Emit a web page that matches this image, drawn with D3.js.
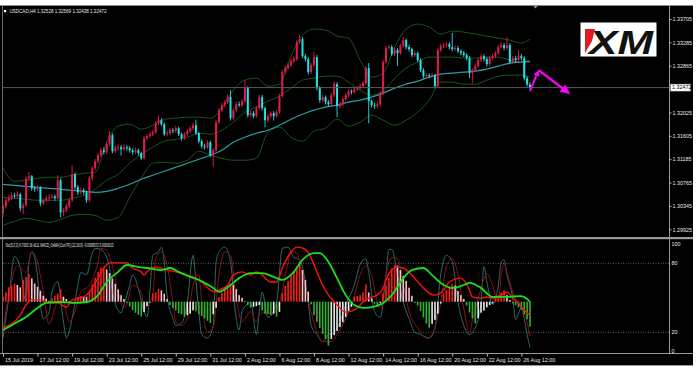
<!DOCTYPE html>
<html>
<head>
<meta charset="utf-8">
<script src="https://cdn.jsdelivr.net/npm/d3@7"></script>
<style>
body { margin: 0; background: #fff; }
svg { display: block; }
text { font-family: "Liberation Sans", Arial, sans-serif; }
</style>
</head>
<body>
<svg width="699" height="373"></svg>
<script>
// USDCAD H4 - open of every bar is the close of the previous one
const firstOpen = 1.30212;
const closes = [
 1.30338,1.30446,1.30482,1.30536,1.30518,1.30554,1.30302,1.30356,1.30842,1.30878,
 1.30662,1.30644,1.30680,1.30392,1.30446,1.30482,1.30500,1.30518,1.30482,1.30806,
 1.30230,1.30266,1.30338,1.30446,1.30914,1.30680,1.30590,1.30626,1.30590,1.30446,
 1.30842,1.31022,1.31148,1.31256,1.31346,1.31310,1.31454,1.31616,1.31328,1.31382,
 1.31400,1.31364,1.31400,1.31382,1.31346,1.31310,1.31346,1.31292,1.31202,1.31562,
 1.31598,1.31634,1.31670,1.31832,1.31886,1.31814,1.31634,1.31652,1.31706,1.31688,
 1.31742,1.31634,1.31562,1.31634,1.31688,1.31742,1.31796,1.31652,1.31508,1.31418,
 1.31400,1.31490,1.31256,1.31346,1.31850,1.32066,1.32156,1.32210,1.32300,1.31922,
 1.32066,1.32174,1.32156,1.32228,1.32462,1.31976,1.32012,1.31958,1.32102,1.32300,
 1.32102,1.31886,1.31958,1.32012,1.31958,1.32030,1.32318,1.32750,1.32822,1.32876,
 1.32948,1.32984,1.33290,1.33344,1.33038,1.32984,1.32750,1.32876,1.33020,1.32462,
 1.32246,1.32300,1.32210,1.32174,1.32336,1.32534,1.32138,1.32174,1.32264,1.32336,
 1.32408,1.32390,1.32444,1.32462,1.32498,1.32552,1.32822,1.32228,1.32156,1.32138,
 1.32174,1.32372,1.32930,1.33182,1.33200,1.33074,1.33146,1.33092,1.33218,1.33326,
 1.33200,1.33164,1.33056,1.33092,1.32966,1.32786,1.32678,1.32696,1.32678,1.32696,
 1.32498,1.33146,1.33218,1.33236,1.33254,1.33200,1.33164,1.33182,1.33128,1.33092,
 1.33056,1.33002,1.32732,1.32786,1.32858,1.32966,1.33038,1.32984,1.32894,1.33002,
 1.33038,1.33092,1.33200,1.33236,1.33182,1.33236,1.32930,1.33002,1.32966,1.33038,
 1.33002,1.32642,1.32528,1.32472];
const highs = [
 1.30380,1.30490,1.30540,1.30590,1.30580,1.30610,1.30580,1.30400,1.30880,1.30950,
 1.30900,1.30700,1.30720,1.30700,1.30480,1.30530,1.30550,1.30560,1.30550,1.30900,
 1.30840,1.30310,1.30380,1.30480,1.31076,1.30950,1.30720,1.30670,1.30660,1.30620,
 1.30880,1.31060,1.31190,1.31300,1.31390,1.31400,1.31500,1.31690,1.31650,1.31430,
 1.31450,1.31440,1.31460,1.31440,1.31420,1.31380,1.31390,1.31380,1.31320,1.31600,
 1.31640,1.31680,1.31710,1.31870,1.31976,1.31920,1.31840,1.31700,1.31750,1.31740,
 1.31790,1.31770,1.31660,1.31670,1.31730,1.31780,1.31840,1.31886,1.31680,1.31540,
 1.31460,1.31530,1.31520,1.31380,1.31890,1.32110,1.32200,1.32250,1.32350,1.32426,
 1.32100,1.32220,1.32220,1.32270,1.32606,1.32500,1.32060,1.32050,1.32140,1.32340,
 1.32340,1.32130,1.32000,1.32050,1.32050,1.32070,1.32360,1.32790,1.32870,1.32920,
 1.32990,1.33030,1.33330,1.33416,1.33380,1.33080,1.33020,1.32920,1.33110,1.33060,
 1.32500,1.32340,1.32330,1.32250,1.32380,1.32580,1.32570,1.32220,1.32300,1.32380,
 1.32450,1.32440,1.32490,1.32500,1.32540,1.32600,1.32860,1.32912,1.32260,1.32200,
 1.32220,1.32410,1.32970,1.33220,1.33236,1.33240,1.33190,1.33180,1.33260,1.33380,
 1.33350,1.33240,1.33190,1.33130,1.33120,1.33000,1.32820,1.32740,1.32730,1.32740,
 1.32720,1.33180,1.33260,1.33280,1.33300,1.33290,1.33452,1.33230,1.33220,1.33160,
 1.33130,1.33090,1.33040,1.32820,1.32900,1.33010,1.33080,1.33070,1.33020,1.33040,
 1.33080,1.33130,1.33240,1.33290,1.33270,1.33380,1.33270,1.33040,1.33040,1.33146,
 1.33080,1.33040,1.32680,1.32569];
const lows = [
 1.30150,1.30300,1.30410,1.30450,1.30480,1.30490,1.30250,1.30200,1.30330,1.30800,
 1.30620,1.30600,1.30610,1.30340,1.30360,1.30420,1.30440,1.30470,1.30440,1.30460,
 1.30140,1.30160,1.30230,1.30310,1.30420,1.30640,1.30540,1.30550,1.30550,1.30400,
 1.30420,1.30800,1.30990,1.31110,1.31220,1.31270,1.31280,1.31420,1.31290,1.31300,
 1.31340,1.31250,1.31330,1.31340,1.31300,1.31270,1.31280,1.31250,1.31166,1.31180,
 1.31530,1.31570,1.31600,1.31640,1.31800,1.31780,1.31600,1.31600,1.31620,1.31650,
 1.31660,1.31600,1.31520,1.31530,1.31600,1.31660,1.31710,1.31620,1.31470,1.31380,
 1.31360,1.31370,1.31220,1.31040,1.31320,1.31820,1.32030,1.32120,1.32180,1.31880,
 1.31890,1.32030,1.32120,1.32120,1.32200,1.31940,1.31940,1.31920,1.31930,1.32070,
 1.32060,1.31760,1.31850,1.31920,1.31880,1.31930,1.32000,1.32290,1.32720,1.32790,
 1.32840,1.32910,1.32950,1.33250,1.33000,1.32940,1.32710,1.32720,1.32840,1.32420,
 1.32200,1.32210,1.32170,1.32130,1.32140,1.32300,1.31940,1.32100,1.32140,1.32230,
 1.32300,1.32350,1.32360,1.32410,1.32430,1.32470,1.32520,1.31832,1.32110,1.32090,
 1.32100,1.32140,1.32340,1.32900,1.33150,1.33040,1.33040,1.32860,1.33060,1.33190,
 1.33160,1.33120,1.33020,1.33020,1.32930,1.32750,1.32640,1.32650,1.32640,1.32650,
 1.32460,1.32470,1.33110,1.33180,1.33200,1.33160,1.33120,1.33130,1.33090,1.33050,
 1.33020,1.32960,1.32642,1.32552,1.32750,1.32830,1.32930,1.32940,1.32850,1.32860,
 1.32970,1.33000,1.33060,1.33170,1.33140,1.33150,1.32890,1.32900,1.32930,1.32930,
 1.32960,1.32600,1.32490,1.32438];

// Bollinger bands and slow MA, read every 4 bars
const bandIdx = [0,4,8,12,16,20,24,28,32,36,40,44,48,52,56,60,64,68,72,76,80,84,88,92,96,100,104,108,112,116,120,124,128,132,136,140,144,148,152,156,160,164,168,172,176,180,183];
const bbUpper = [1.31022,1.30788,1.30806,1.30842,1.30860,1.30860,1.30896,1.30932,1.30950,1.31490,1.31778,1.31814,1.31724,1.31796,1.31904,1.31922,1.31940,1.31940,1.31922,1.32102,1.32426,1.32606,1.32642,1.32498,1.32534,1.33038,1.33416,1.33524,1.33506,1.33398,1.33362,1.32966,1.32660,1.32732,1.33200,1.33524,1.33614,1.33560,1.33434,1.33488,1.33470,1.33434,1.33398,1.33362,1.33326,1.33272,1.33344];
const bbMiddle = [1.30500,1.30482,1.30464,1.30446,1.30446,1.30446,1.30482,1.30536,1.30644,1.30806,1.30914,1.31112,1.31274,1.31400,1.31508,1.31544,1.31580,1.31652,1.31634,1.31706,1.31850,1.32030,1.32120,1.32228,1.32318,1.32462,1.32606,1.32642,1.32678,1.32678,1.32570,1.32426,1.32336,1.32408,1.32642,1.32822,1.32930,1.33020,1.33020,1.33020,1.33002,1.33002,1.33020,1.33020,1.32966,1.32930,1.32930];
const bbLower = [1.29996,1.30068,1.30122,1.30086,1.30050,1.30104,1.30176,1.30194,1.30176,1.30086,1.30140,1.30500,1.30842,1.31112,1.31130,1.31112,1.31166,1.31328,1.31256,1.31202,1.31166,1.31166,1.31202,1.31670,1.31760,1.31580,1.31508,1.31688,1.31742,1.31904,1.31778,1.31850,1.31976,1.31886,1.31796,1.31886,1.32030,1.32246,1.32570,1.32570,1.32534,1.32534,1.32606,1.32678,1.32696,1.32696,1.32660];
const maSlow = [1.30734,1.30716,1.30698,1.30680,1.30662,1.30644,1.30626,1.30608,1.30590,1.30608,1.30662,1.30734,1.30824,1.30896,1.30968,1.31040,1.31112,1.31184,1.31256,1.31346,1.31490,1.31580,1.31652,1.31706,1.31796,1.31904,1.31994,1.32066,1.32120,1.32156,1.32210,1.32246,1.32300,1.32372,1.32462,1.32534,1.32588,1.32660,1.32714,1.32732,1.32750,1.32768,1.32804,1.32858,1.32912,1.32930,1.32948];

const priceTicks = [1.33705,1.33285,1.32865,1.32025,1.31605,1.31185,1.30765,1.30345,1.29925];
const lastPrice = 1.32472;
const timeIdx = [0,12,24,36,48,60,72,84,96,108,120,132,144,156,168,180];
const timeLabels = ["15 Jul 2019","17 Jul 12:00","19 Jul 12:00","23 Jul 12:00","25 Jul 12:00","29 Jul 12:00","31 Jul 12:00","2 Aug 12:00","6 Aug 12:00","8 Aug 12:00","12 Aug 12:00","14 Aug 12:00","16 Aug 12:00","20 Aug 12:00","22 Aug 12:00","26 Aug 12:00"];

// Stochastic (5,3,3): [bar, value]
const stoMain = [[0,15],[2,50],[4,86],[6,76],[8,46],[9,80],[10,90],[11,85],[14,32],[16,37],[17,55],[19,64],[21,29],[22,15],[24,32],[26,61],[27,72],[29,70],[31,89],[32,93],[34,92],[35,90],[37,76],[38,55],[41,37],[42,44],[44,61],[45,70],[47,58],[49,38],[50,33],[51,55],[52,87],[54,90],[55,94],[56,81],[57,52],[59,32],[60,26],[62,28],[64,46],[66,87],[67,64],[68,38],[69,18],[71,15],[73,26],[74,81],[75,90],[77,94],[79,81],[81,32],[82,22],[83,38],[86,46],[88,18],[89,38],[90,55],[92,33],[95,46],[97,93],[99,94],[101,85],[103,83],[106,46],[107,26],[109,18],[111,12],[113,18],[115,20],[117,29],[119,44],[122,61],[124,79],[126,84],[127,72],[129,38],[131,33],[133,70],[134,92],[135,92],[137,70],[139,46],[141,32],[143,20],[145,18],[148,15],[150,24],[152,70],[154,87],[156,81],[158,46],[160,26],[162,18],[164,24],[166,46],[167,77],[168,64],[170,44],[172,61],[173,81],[174,83],[175,70],[177,50],[178,31],[180,41],[181,32],[182,18],[183,6.7]];
const stoSignal = [[0,22],[2,52],[5,78],[8,72],[10,90],[12,81],[14,55],[16,27],[18,41],[20,52],[21,48],[23,29],[25,38],[27,55],[30,61],[33,81],[34,93],[36,91],[38,78],[40,55],[42,41],[43,44],[45,61],[48,55],[49,41],[52,52],[53,84],[55,90],[57,78],[59,46],[60,29],[62,26],[64,32],[66,61],[68,70],[69,46],[71,20],[73,24],[75,70],[77,90],[79,87],[81,50],[83,29],[86,38],[88,29],[89,35],[92,38],[93,35],[96,46],[99,81],[100,90],[102,89],[104,70],[107,38],[109,20],[111,12],[114,12],[116,18],[119,32],[122,52],[124,70],[126,78],[128,70],[130,46],[131,41],[133,70],[135,85],[137,84],[139,61],[141,38],[144,24],[147,15],[149,18],[152,46],[154,78],[156,84],[158,70],[160,41],[162,20],[163,30],[166,58],[168,71],[170,61],[172,46],[173,70],[174,80],[175,72],[177,55],[179,44],[181,38],[182,29],[183,16.4]];

// MACD_OsMA (12,26,9)
const macdMain = [[0,-0.00088],[6,-0.00045],[8,-0.00011],[10,0.00006],[13,0.00006],[16,-0.00004],[19,-0.00004],[22,-0.00018],[24,0.00006],[28,0.00016],[30,0.00033],[33,0.00079],[35,0.00113],[37,0.00130],[41,0.00130],[43,0.00130],[45,0.00113],[48,0.00100],[49,0.00089],[50,0.00100],[53,0.00116],[57,0.00106],[60,0.00100],[64,0.00089],[67,0.00079],[69,0.00066],[72,0.00039],[74,0.00033],[75,0.00039],[78,0.00056],[80,0.00089],[83,0.00100],[86,0.00089],[88,0.00100],[90,0.00089],[93,0.00066],[95,0.00066],[97,0.00113],[100,0.00166],[102,0.00183],[104,0.00180],[106,0.00165],[109,0.00100],[111,0.00055],[113,0.00022],[116,-0.00011],[119,-0.00035],[123,-0.00021],[125,-0.00001],[127,0.00012],[130,0.00022],[132,0.00046],[134,0.00095],[137,0.00116],[139,0.00113],[142,0.00089],[145,0.00056],[148,0.00029],[150,0.00022],[153,0.00039],[155,0.00066],[159,0.00079],[162,0.00039],[163,0.00016],[166,0.00012],[168,0.00016],[170,0.00012],[173,0.00022],[175,0.00033],[177,0.00012],[179,-0.00005],[181,-0.00028],[183,-0.00045]];
const macdSignal = [[0,-0.00095],[5,-0.00068],[8,-0.00051],[12,-0.00021],[15,-0.00004],[20,-0.00001],[24,-0.00004],[29,-0.00001],[33,0.00022],[36,0.00066],[40,0.00100],[43,0.00123],[47,0.00116],[50,0.00113],[55,0.00106],[58,0.00113],[61,0.00100],[65,0.00083],[68,0.00073],[73,0.00046],[75,0.00033],[79,0.00056],[82,0.00079],[86,0.00096],[90,0.00096],[94,0.00083],[97,0.00073],[101,0.00100],[104,0.00140],[108,0.00163],[110,0.00163],[113,0.00133],[116,0.00079],[119,0.00022],[122,-0.00011],[125,-0.00021],[128,-0.00018],[132,-0.00004],[135,0.00022],[139,0.00079],[142,0.00106],[146,0.00113],[149,0.00089],[153,0.00056],[156,0.00046],[160,0.00056],[162,0.00063],[166,0.00046],[170,0.00016],[175,0.00016],[180,0.00019],[182,0.00009],[183,-0.00001]];
const osma = [
 0.00017,0.00031,0.00048,0.00054,0.00060,0.00056,0.00048,0.00073,0.00083,0.00093,
 0.00078,0.00061,0.00050,0.00037,0.00020,0.00010,0.00003,0.00011,0.00019,0.00027,
 0.00042,0.00017,0.00009,0.00002,-0.00006,0.00006,0.00016,0.00019,0.00018,0.00017,
 0.00031,0.00058,0.00080,0.00101,0.00114,0.00117,0.00108,0.00096,0.00078,0.00060,
 0.00041,0.00022,0.00009,-0.00004,-0.00016,-0.00029,-0.00037,-0.00044,-0.00049,-0.00034,
 -0.00015,-0.00003,0.00028,0.00031,0.00042,0.00038,0.00027,0.00009,-0.00011,-0.00021,
 -0.00029,-0.00039,-0.00042,-0.00050,-0.00045,-0.00040,-0.00029,-0.00032,-0.00042,-0.00048,
 -0.00056,-0.00064,-0.00071,-0.00042,-0.00020,0.00015,0.00031,0.00039,0.00045,0.00061,
 0.00056,0.00042,0.00022,0.00013,0.00002,-0.00011,-0.00020,-0.00017,-0.00015,-0.00011,
 -0.00029,-0.00041,-0.00041,-0.00044,-0.00040,-0.00050,-0.00034,0.00028,0.00053,0.00070,
 0.00087,0.00101,0.00117,0.00132,0.00106,0.00073,0.00034,-0.00009,-0.00045,-0.00067,
 -0.00088,-0.00108,-0.00125,-0.00147,-0.00125,-0.00112,-0.00098,-0.00085,-0.00069,-0.00051,
 -0.00031,-0.00017,0.00017,0.00020,0.00022,0.00031,0.00058,0.00031,0.00011,-0.00007,
 -0.00011,-0.00005,0.00028,0.00054,0.00080,0.00112,0.00123,0.00121,0.00106,0.00087,
 0.00070,0.00047,0.00020,-0.00004,-0.00013,-0.00031,-0.00053,-0.00073,-0.00087,-0.00074,
 -0.00061,-0.00040,-0.00006,0.00028,0.00040,0.00053,0.00059,0.00054,0.00036,0.00022,
 0.00009,-0.00013,-0.00036,-0.00056,-0.00073,-0.00056,-0.00037,-0.00030,-0.00019,-0.00011,
 -0.00006,0.00011,0.00022,0.00031,0.00038,0.00022,0.00006,-0.00006,-0.00012,-0.00019,
 -0.00027,-0.00042,-0.00059,-0.00084];
const stoLevels = [80, 20];
const stoTicks = [100, 80, 20, 0];

// hand drawn forecast arrows: [bar, price]
const forecast = [[183, 1.32408], [186, 1.32786], [197, 1.32354]];

const svg = d3.select("svg");
const attr_area = { left: 3, right: 669, top: 6, mainBottom: 237, subTop: 239.5, subBottom: 353.5 };

const scX = d3.scaleLinear().domain([0, 183]).range([3, 530]);
const scY = d3.scaleLinear().domain([1.29925, 1.33705]).range([229.3, 19]);
const scSto = d3.scaleLinear().domain([0, 100]).range([355.3, 240.3]);
const scMacd = d3.scaleLinear().domain([-0.0018, 0.0018]).range([355.4, 248]);

function drawFrame() {
    svg.append("rect").attr("width", 699).attr("height", 373).attr("fill", "#fff");
    svg.append("rect").attr("x", 0).attr("y", 5).attr("width", 693).attr("height", 361).attr("fill", "#000");
    svg.append("line").attr("x1", 0).attr("x2", 693).attr("y1", 5.5).attr("y2", 5.5).attr("stroke", "#8c8c8c");
    svg.append("line").attr("x1", 2.5).attr("x2", 2.5).attr("y1", 6).attr("y2", 353.5).attr("stroke", "#6a6a6a");
    svg.append("rect").attr("x", 0).attr("y", 237).attr("width", 693).attr("height", 2.2).attr("fill", "#9a9a9a");
    svg.append("line").attr("x1", 0).attr("x2", 693).attr("y1", 353.5).attr("y2", 353.5).attr("stroke", "#9a9a9a");
    svg.append("line").attr("x1", 0).attr("x2", 693).attr("y1", 365.5).attr("y2", 365.5).attr("stroke", "#9a9a9a");
    svg.append("line").attr("x1", 669.5).attr("x2", 669.5).attr("y1", 6).attr("y2", 353.5).attr("stroke", "#9a9a9a");

    let defs = svg.append("defs");
    defs.append("clipPath").attr("id", "clipMain").append("rect")
        .attr("x", attr_area.left).attr("y", attr_area.top)
        .attr("width", attr_area.right - attr_area.left).attr("height", attr_area.mainBottom - attr_area.top);
    defs.append("clipPath").attr("id", "clipSub").append("rect")
        .attr("x", attr_area.left).attr("y", attr_area.subTop)
        .attr("width", attr_area.right - attr_area.left).attr("height", attr_area.subBottom - attr_area.subTop);
}

function createAxis() {
    // price scale
    let axisY = d3.axisRight(scY).tickValues(priceTicks).tickSize(2).tickFormat(d3.format(".5f"));
    let gy = svg.append("g").attr("transform", "translate(669.5,0)").call(axisY);
    gy.select(".domain").remove();
    gy.selectAll("line").attr("stroke", "#bbb");
    gy.selectAll("text").attr("fill", "#e8e8e8").attr("font-size", 5.4).attr("x", 3);

    // current price marker
    svg.append("line").attr("x1", attr_area.left).attr("x2", attr_area.right)
        .attr("y1", scY(lastPrice)).attr("y2", scY(lastPrice)).attr("stroke", "#5a5a5a");
    svg.append("rect").attr("x", 670.5).attr("y", scY(lastPrice) - 3.5).attr("width", 20).attr("height", 7)
        .attr("fill", "#fff").attr("stroke", "#999").attr("stroke-width", 0.5);
    svg.append("text").attr("x", 672).attr("y", scY(lastPrice) + 1.9).attr("font-size", 5.4)
        .attr("fill", "#000").text(d3.format(".5f")(lastPrice));

    // time scale
    let axisX = d3.axisBottom(scX).tickValues(timeIdx).tickSize(3)
        .tickFormat((d, i) => timeLabels[i]);
    let gx = svg.append("g").attr("transform", "translate(0,353.5)").call(axisX);
    gx.select(".domain").remove();
    gx.selectAll("line").attr("stroke", "#bbb");
    gx.selectAll("text").attr("fill", "#e8e8e8").attr("font-size", 5.4)
        .style("text-anchor", "start").attr("x", 1.5).attr("y", 5).attr("dy", "0.71em");

    // stochastic levels
    svg.append("g").selectAll("text").data(stoTicks).enter().append("text")
        .attr("x", 671.5)
        .attr("y", d => Math.max(246, Math.min(353, scSto(d) + 1.9)))
        .attr("font-size", 5.4).attr("fill", "#e8e8e8").text(d => d);
    svg.append("g").selectAll("line").data(stoLevels).enter().append("line")
        .attr("x1", attr_area.left).attr("x2", attr_area.right)
        .attr("y1", d => scSto(d)).attr("y2", d => scSto(d))
        .attr("stroke", "#8a8a8a").attr("stroke-width", 0.7).attr("stroke-dasharray", "1,1.5");
}

function drawLine(g, data, scaleY, color, width) {
    let line = d3.line().x(d => scX(d[0])).y(d => scaleY(d[1])).curve(d3.curveMonotoneX);
    g.append("path").datum(data).attr("d", line)
        .attr("fill", "none").attr("stroke", color).attr("stroke-width", width);
}

function drawMain() {
    let g = svg.append("g").attr("clip-path", "url(#clipMain)");
    drawLine(g, d3.zip(bandIdx, bbUpper), scY, "#195519", 1);
    drawLine(g, d3.zip(bandIdx, bbMiddle), scY, "#195519", 1);
    drawLine(g, d3.zip(bandIdx, bbLower), scY, "#195519", 1);
    drawLine(g, d3.zip(bandIdx, maSlow), scY, "#2a9ea6", 1.2);

    let candles = closes.map((c, i) => ({
        i: i, o: i == 0 ? firstOpen : closes[i - 1], c: c, h: highs[i], l: lows[i]
    }));
    let color = d => d.c >= d.o ? "#e8194d" : "#1fe3e6";
    g.selectAll(".wick").data(candles).enter().append("line")
        .attr("x1", d => scX(d.i)).attr("x2", d => scX(d.i))
        .attr("y1", d => scY(d.h)).attr("y2", d => scY(d.l))
        .attr("stroke", color).attr("stroke-width", 0.9);
    g.selectAll(".body").data(candles).enter().append("rect")
        .attr("x", d => scX(d.i) - 1)
        .attr("y", d => scY(Math.max(d.o, d.c)))
        .attr("width", 2)
        .attr("height", d => Math.max(0.8, Math.abs(scY(d.o) - scY(d.c))))
        .attr("fill", color);
}

function arrow(g, p0, p1, head, half, w) {
    let [x0, y0] = [scX(p0[0]), scY(p0[1])];
    let [x1, y1] = [scX(p1[0]), scY(p1[1])];
    let len = Math.hypot(x1 - x0, y1 - y0);
    let ux = (x1 - x0) / len, uy = (y1 - y0) / len;
    let bx = x1 - ux * head, by = y1 - uy * head;
    g.append("line").attr("x1", x0).attr("y1", y0).attr("x2", bx).attr("y2", by)
        .attr("stroke", "#ff00ff").attr("stroke-width", w);
    g.append("path")
        .attr("d", `M${x1},${y1}L${bx - uy * half},${by + ux * half}L${bx + uy * half},${by - ux * half}Z`)
        .attr("fill", "#ff00ff");
}

function drawAnnotations() {
    let g = svg.append("g");
    arrow(g, forecast[0], forecast[1], 6, 3, 1.8);
    arrow(g, forecast[1], forecast[2], 10, 4.5, 2.4);

    // broker logo
    let logo = svg.append("g");
    logo.append("rect").attr("x", 580.5).attr("y", 22.5).attr("width", 76).attr("height", 34).attr("fill", "#fff");
    logo.append("path").attr("d", "M585,29L595,29L592,41L585,53Z").attr("fill", "#e01b22");
    logo.append("text").attr("x", 589).attr("y", 53.5).attr("font-size", 34)
        .attr("font-weight", "bold").attr("font-style", "italic")
        .attr("textLength", 64).attr("lengthAdjust", "spacingAndGlyphs")
        .attr("fill", "#111").text("XM");

    // chart shift marker
    svg.append("path").attr("d", "M533.5,6L537.5,6L535.5,8.5Z").attr("fill", "#9a9a9a");

    // headers
    svg.append("rect").attr("x", 4).attr("y", 10).attr("width", 2.2).attr("height", 2.2).attr("fill", "#fff");
    svg.append("text").attr("x", 9.5).attr("y", 13.2).attr("font-size", 5.8).attr("fill", "#e8e8e8")
        .attr("textLength", 97).attr("lengthAdjust", "spacingAndGlyphs")
        .text("USDCAD,H4  1.32528 1.32569 1.32438 1.32472");
    svg.append("text").attr("x", 5.5).attr("y", 246.7).attr("font-size", 5.8).attr("fill", "#e8e8e8")
        .attr("textLength", 108).attr("lengthAdjust", "spacingAndGlyphs")
        .text("Sto(5,3,3) 6.7003 16.4111  MACD_OsMA [CurrTF] (12,26,9) -0.0008372 0.0000013");
}

function drawSub() {
    let g = svg.append("g").attr("clip-path", "url(#clipSub)");
    drawLine(g, stoMain, scSto, "#2b6a6b", 1);
    drawLine(g, stoSignal, scSto, "#8a1212", 1);

    // histogram colour depends on sign and direction
    let barColor = (v, i) => {
        let prev = i == 0 ? 0 : osma[i - 1];
        if (v >= 0) return v >= prev ? "#ff1a1a" : "#f4c2cc";
        return v <= prev ? "#35b035" : "#ececec";
    };
    g.selectAll(".hist").data(osma).enter().append("rect")
        .attr("x", (d, i) => scX(i) - 0.8)
        .attr("y", d => scMacd(Math.max(d, 0)))
        .attr("width", 1.6)
        .attr("height", d => Math.abs(scMacd(d) - scMacd(0)))
        .attr("fill", barColor);

    drawLine(g, macdMain, scMacd, "#ff1010", 1.4);
    drawLine(g, macdSignal, scMacd, "#19e019", 1.8);
}

drawFrame();
drawMain();
drawSub();
createAxis();
drawAnnotations();
</script>
</body>
</html>
